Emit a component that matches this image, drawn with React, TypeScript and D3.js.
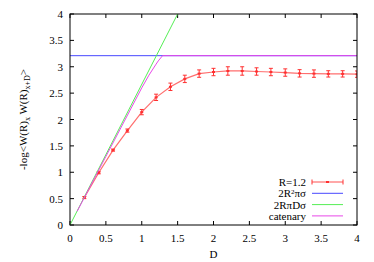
import React from 'react';
import * as d3 from 'd3';

const W = 374;
const H = 262;
const M = { left: 70, right: 17, top: 14, bottom: 37 };

// R=1.2 measurement
const dValues = [0.2, 0.4, 0.6, 0.8, 1.0, 1.2, 1.4, 1.6, 1.8, 2.0, 2.2, 2.4, 2.6, 2.8, 3.0, 3.2, 3.4, 3.6, 3.8, 4.0];
const wValues = [0.52, 0.99, 1.42, 1.79, 2.14, 2.42, 2.62, 2.77, 2.87, 2.90, 2.92, 2.92, 2.91, 2.90, 2.89, 2.875, 2.87, 2.865, 2.865, 2.86];
const wErrors = [0.02, 0.02, 0.02, 0.03, 0.05, 0.06, 0.07, 0.07, 0.07, 0.07, 0.08, 0.08, 0.07, 0.07, 0.07, 0.07, 0.07, 0.06, 0.06, 0.06];

// 2R^2 pi sigma (flat) and 2 R pi D sigma (slope)
const flatLevel = 3.21;
const slopeX = [0, 1.5];
const slopeY = [0, 4.0];

// catenary
const catX = [0.1, 0.5, 1.0, 1.1, 1.2, 1.23, 1.29, 4.0];
const catY = [0.26, 1.3, 2.6, 2.84, 3.05, 3.11, 3.21, 3.21];

const xTicks = [0, 0.5, 1, 1.5, 2, 2.5, 3, 3.5, 4];
const yTicks = [0, 0.5, 1, 1.5, 2, 2.5, 3, 3.5, 4];

const RED = '#ff3030';
const BLUE = '#4848ff';
const GREEN = '#55ee55';
const MAGENTA = '#e848e8';
const FONT = 'Liberation Serif';

export default function App() {
  const x = d3.scaleLinear().domain([0, 4]).range([M.left, W - M.right]);
  const y = d3.scaleLinear().domain([0, 4]).range([H - M.bottom, M.top]);
  const line = d3.line<[number, number]>().x((d) => x(d[0])).y((d) => y(d[1]));

  const dataPts: [number, number][] = dValues.map((d, i) => [d, wValues[i]]);
  const catPts: [number, number][] = catX.map((d, i) => [d, catY[i]]);
  const slopePts: [number, number][] = slopeX.map((d, i) => [d, slopeY[i]]);

  const x0 = M.left;
  const x1 = W - M.right;
  const y0 = H - M.bottom;
  const y1 = M.top;
  const tick = 4;

  const legendRows = ['R=1.2', '2R²πσ', '2RπDσ', 'catenary'];
  const legTextX = 306;
  const legLine = [312, 343];
  const legY0 = 182;
  const legStep = 11.3;

  return (
    <svg width={W} height={H} style={{ position: 'absolute', left: 0, top: 0 }} fontFamily={FONT} fontSize={11}>
      <rect width={W} height={H} fill="#fff" />
      <defs>
        <clipPath id="plot">
          <rect x={x0} y={y1} width={x1 - x0} height={y0 - y1} />
        </clipPath>
      </defs>

      {/* ticks, mirrored on all sides */}
      {xTicks.map((t) => (
        <g key={'x' + t}>
          <line x1={x(t)} x2={x(t)} y1={y0} y2={y0 - tick} stroke="#000" />
          <line x1={x(t)} x2={x(t)} y1={y1} y2={y1 + tick} stroke="#000" />
          <text x={x(t)} y={242} textAnchor="middle">{t}</text>
        </g>
      ))}
      {yTicks.map((t) => (
        <g key={'y' + t}>
          <line x1={x0} x2={x0 + tick} y1={y(t)} y2={y(t)} stroke="#000" />
          <line x1={x1} x2={x1 - tick} y1={y(t)} y2={y(t)} stroke="#000" />
          <text x={63} y={y(t) + 4} textAnchor="end">{t}</text>
        </g>
      ))}

      <g clipPath="url(#plot)">
        {/* data with error bars */}
        <path d={line(dataPts) ?? ''} fill="none" stroke={RED} strokeWidth={1.2} strokeOpacity={0.7} />
        {dataPts.map(([d, v], i) => (
          <g key={'p' + i} stroke={RED} strokeWidth={1}>
            <line x1={x(d)} x2={x(d)} y1={y(v - wErrors[i])} y2={y(v + wErrors[i])} />
            <line x1={x(d) - 2} x2={x(d) + 2} y1={y(v - wErrors[i])} y2={y(v - wErrors[i])} />
            <line x1={x(d) - 2} x2={x(d) + 2} y1={y(v + wErrors[i])} y2={y(v + wErrors[i])} />
            <line x1={x(d) - 1.5} x2={x(d) + 1.5} y1={y(v)} y2={y(v)} strokeWidth={2} />
          </g>
        ))}
        <line x1={x(0)} x2={x(4)} y1={y(flatLevel)} y2={y(flatLevel)} stroke={BLUE} strokeWidth={1} />
        <path d={line(slopePts) ?? ''} fill="none" stroke={GREEN} strokeWidth={1} />
        <path d={line(catPts) ?? ''} fill="none" stroke={MAGENTA} strokeWidth={1} />
      </g>

      {/* legend */}
      {legendRows.map((label, i) => {
        const ly = legY0 + i * legStep;
        const color = [RED, BLUE, GREEN, MAGENTA][i];
        return (
          <g key={label}>
            <text x={legTextX} y={ly + 4} textAnchor="end">
              {i === 1 ? (
                <>
                  2R<tspan dy={-3} fontSize={7}>2</tspan>
                  <tspan dy={3}>πσ</tspan>
                </>
              ) : (
                label
              )}
            </text>
            <line x1={legLine[0]} x2={legLine[1]} y1={ly} y2={ly} stroke={color} strokeWidth={i === 0 ? 1.2 : 1} strokeOpacity={i === 0 ? 0.7 : 1} />
            {i === 0 && (
              <g stroke={RED}>
                <line x1={legLine[0]} x2={legLine[0]} y1={ly - 2.5} y2={ly + 2.5} />
                <line x1={legLine[1]} x2={legLine[1]} y1={ly - 2.5} y2={ly + 2.5} />
                <line x1={(legLine[0] + legLine[1]) / 2 - 1.5} x2={(legLine[0] + legLine[1]) / 2 + 1.5} y1={ly} y2={ly} strokeWidth={2} />
              </g>
            )}
          </g>
        );
      })}

      {/* border */}
      <rect x={x0} y={y1} width={x1 - x0} height={y0 - y1} fill="none" stroke="#000" strokeWidth={1} />

      <text x={(x0 + x1) / 2} y={258} textAnchor="middle">D</text>
      <text transform={`translate(27, ${(y0 + y1) / 2}) rotate(-90)`} textAnchor="middle">
        -log&lt;W(R)<tspan dy={3} fontSize={8}>x</tspan>
        <tspan dy={-3}> W(R)</tspan>
        <tspan dy={3} fontSize={8}>x+D</tspan>
        <tspan dy={-3}>&gt;</tspan>
      </text>
    </svg>
  );
}
